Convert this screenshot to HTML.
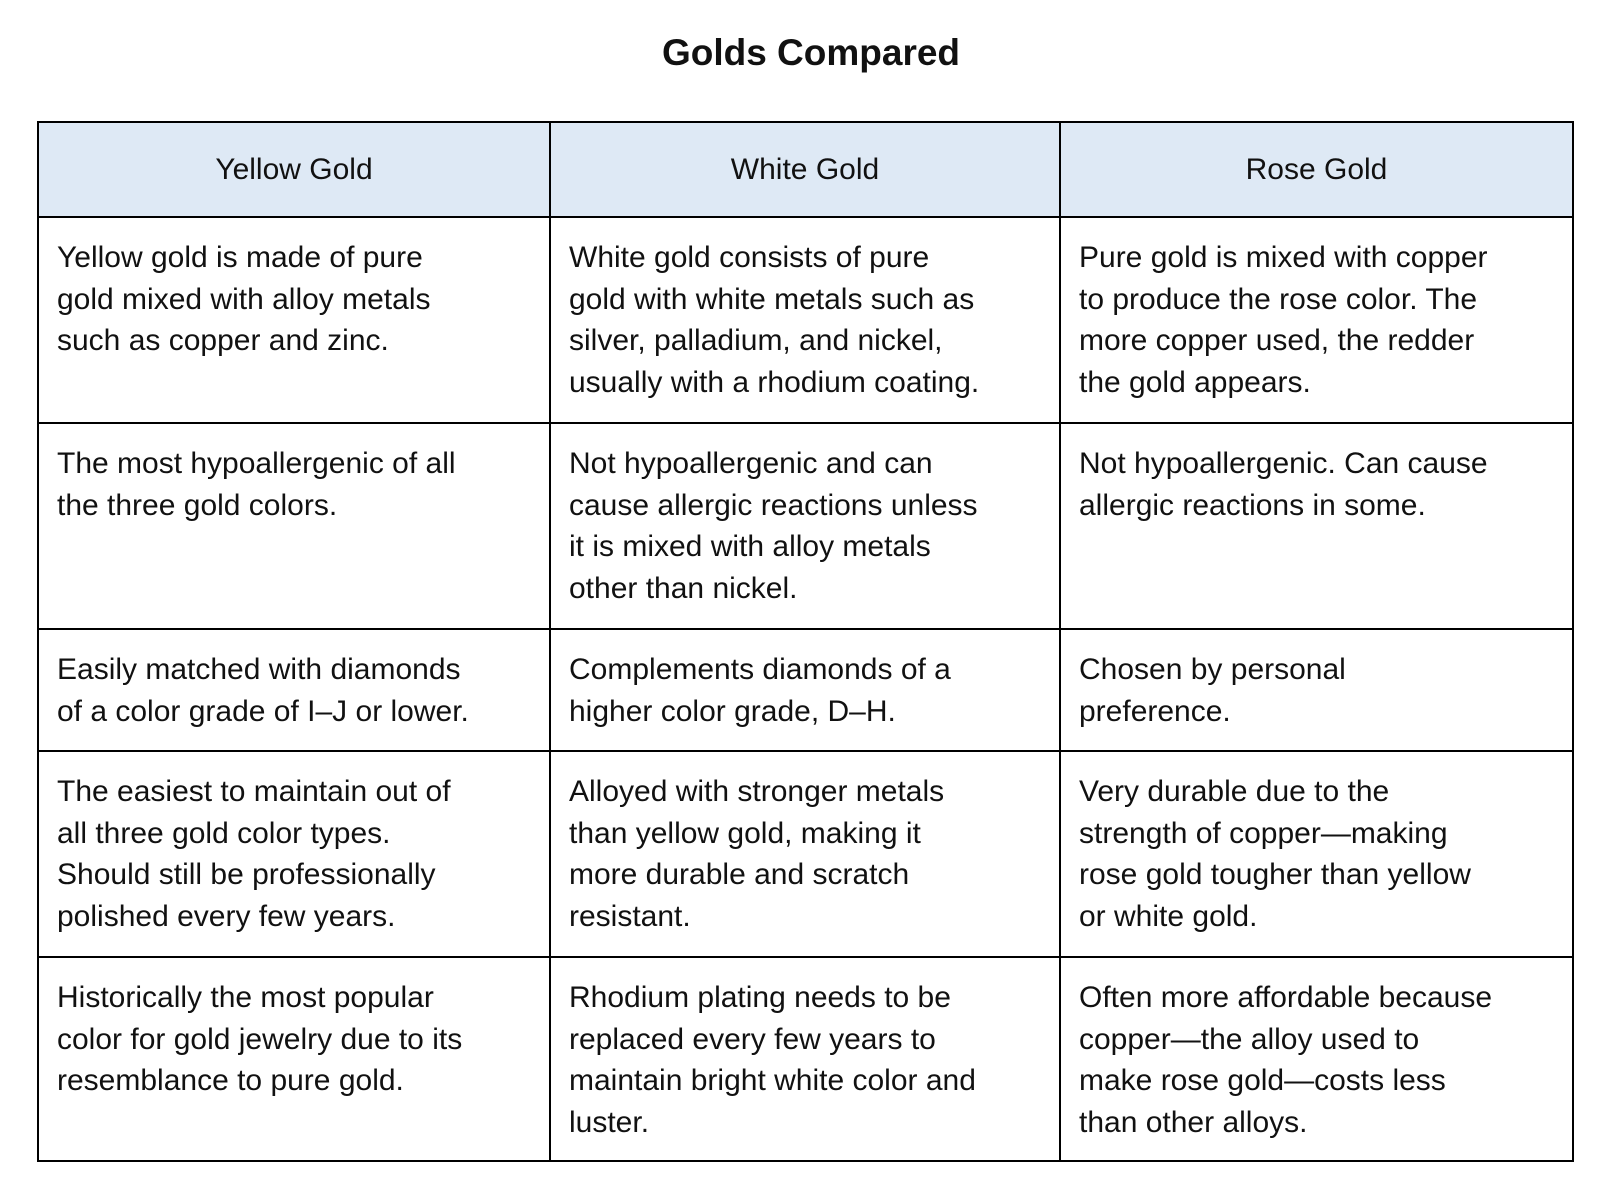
<!DOCTYPE html>
<html><head><meta charset="utf-8"><style>
body{margin:0;width:1622px;height:1196px;background:#fff;font-family:"Liberation Sans",sans-serif;color:#111;position:relative;overflow:hidden}
h1{position:absolute;top:31px;left:0;width:1622px;text-align:center;margin:0;font-size:37px;font-weight:bold;line-height:44px}
table{position:absolute;left:37px;top:121px;width:1535px;border-collapse:collapse;table-layout:fixed}
td,th{border:2.5px solid #000;vertical-align:top;font-size:30px;line-height:41.5px;padding:19px 10px 0 18px;text-align:left;font-weight:normal;white-space:nowrap;overflow:hidden}
th{background:#dee9f5;text-align:center;vertical-align:middle;padding:0;height:93px}
</style></head><body>
<h1>Golds Compared</h1>
<table>
<colgroup><col style="width:512px"><col style="width:510px"><col style="width:513px"></colgroup>
<tr><th>Yellow Gold</th><th>White Gold</th><th>Rose Gold</th></tr>
<tr style="height:206px"><td>Yellow gold is made of pure<br>gold mixed with alloy metals<br>such as copper and zinc.</td><td>White gold consists of pure<br>gold with white metals such as<br>silver, palladium, and nickel,<br>usually with a rhodium coating.</td><td>Pure gold is mixed with copper<br>to produce the rose color. The<br>more copper used, the redder<br>the gold appears.</td></tr>
<tr style="height:206px"><td>The most hypoallergenic of all<br>the three gold colors.</td><td>Not hypoallergenic and can<br>cause allergic reactions unless<br>it is mixed with alloy metals<br>other than nickel.</td><td>Not hypoallergenic. Can cause<br>allergic reactions in some.</td></tr>
<tr style="height:122px"><td>Easily matched with diamonds<br>of a color grade of I–J or lower.</td><td>Complements diamonds of a<br>higher color grade, D–H.</td><td>Chosen by personal<br>preference.</td></tr>
<tr style="height:206px"><td>The easiest to maintain out of<br>all three gold color types.<br>Should still be professionally<br>polished every few years.</td><td>Alloyed with stronger metals<br>than yellow gold, making it<br>more durable and scratch<br>resistant.</td><td>Very durable due to the<br>strength of copper—making<br>rose gold tougher than yellow<br>or white gold.</td></tr>
<tr style="height:204px"><td>Historically the most popular<br>color for gold jewelry due to its<br>resemblance to pure gold.</td><td>Rhodium plating needs to be<br>replaced every few years to<br>maintain bright white color and<br>luster.</td><td>Often more affordable because<br>copper—the alloy used to<br>make rose gold—costs less<br>than other alloys.</td></tr>
</table>
</body></html>
